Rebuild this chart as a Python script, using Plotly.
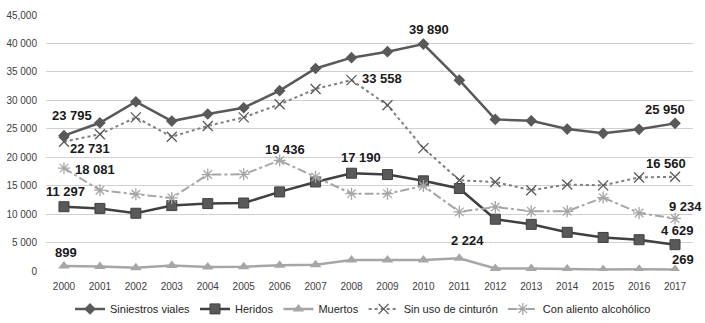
import plotly.graph_objects as go

years = [str(y) for y in range(2000, 2018)]
siniestros = [23795, 26050, 29750, 26350, 27600, 28700, 31700, 35600, 37500, 38550, 39890, 33550, 26650, 26400, 24950, 24200, 24900, 25950]
heridos = [11297, 11000, 10150, 11500, 11850, 11950, 13900, 15650, 17190, 16950, 15850, 14500, 9100, 8200, 6800, 5900, 5500, 4629]
muertos = [899, 800, 550, 950, 700, 750, 1000, 1100, 1950, 1950, 1950, 2224, 450, 450, 350, 250, 300, 269]
sin_cinturon = [22731, 24050, 27000, 23600, 25500, 27000, 29300, 32000, 33558, 29150, 21600, 15950, 15650, 14200, 15200, 15050, 16450, 16560]
alcohol = [18081, 14200, 13500, 12850, 16950, 17000, 19436, 16550, 13600, 13600, 14950, 10400, 11250, 10500, 10500, 12900, 10200, 9234]

tickvals = [0, 5000, 10000, 15000, 20000, 25000, 30000, 35000, 40000, 45000]
ticktext = ["0", "5 000", "10 000", "15 000", "20 000", "25 000", "30 000", "35 000", "40 000", "45,000"]

# labels: (series values, index, xshift, yshift, text)
labels = [
    (siniestros, 0, 8, 20, "23 795"),
    (sin_cinturon, 0, 26, -7, "22 731"),
    (alcohol, 0, 31, -1, "18 081"),
    (heridos, 0, 2, 15, "11 297"),
    (muertos, 0, 2, 13, "899"),
    (siniestros, 10, 6, 15, "39 890"),
    (sin_cinturon, 8, 30, 2, "33 558"),
    (alcohol, 6, 5, 11, "19 436"),
    (heridos, 8, 9, 16, "17 190"),
    (muertos, 11, 8, 18, "2 224"),
    (sin_cinturon, 17, -9, 13, "16 560"),
    (alcohol, 17, 10, 12, "9 234"),
    (heridos, 17, 2, 14, "4 629"),
    (muertos, 17, 8, 10, "269"),
    (siniestros, 17, -10, 14, "25 950"),
]

fig = go.Figure()
fig.add_trace(go.Scatter(x=years, y=siniestros, name="Siniestros viales", mode="lines+markers",
                         line=dict(color="#595959", width=2.5),
                         marker=dict(symbol="diamond", size=9, color="#595959")))
fig.add_trace(go.Scatter(x=years, y=heridos, name="Heridos", mode="lines+markers",
                         line=dict(color="#404040", width=2.5),
                         marker=dict(symbol="square", size=10, color="#595959", line=dict(color="#404040", width=1))))
fig.add_trace(go.Scatter(x=years, y=muertos, name="Muertos", mode="lines+markers",
                         line=dict(color="#a6a6a6", width=2.5),
                         marker=dict(symbol="triangle-up", size=10, color="#a6a6a6")))
fig.add_trace(go.Scatter(x=years, y=sin_cinturon, name="Sin uso de cinturón", mode="lines+markers",
                         line=dict(color="#7f7f7f", width=2, dash="dot"),
                         marker=dict(symbol="x-thin-open", size=10, color="#595959", line=dict(width=1.3, color="#595959"))))
fig.add_trace(go.Scatter(x=years, y=alcohol, name="Con aliento alcohólico", mode="lines+markers",
                         line=dict(color="#a6a6a6", width=2, dash="dashdot"),
                         marker=dict(symbol="asterisk-open", size=10, color="#a6a6a6", line=dict(width=1.3, color="#a6a6a6"))))

for vals, i, xs, ys, txt in labels:
    fig.add_annotation(x=i, y=vals[i], xref="x", yref="y", text="<b>" + txt + "</b>", showarrow=False,
                       xshift=xs, yshift=ys, font=dict(family="Liberation Sans", size=13, color="#1a1a1a"))

fig.update_layout(
    width=705, height=323,
    margin=dict(l=46, r=12, t=15, b=52, autoexpand=False),
    paper_bgcolor="white", plot_bgcolor="white",
    font=dict(family="Liberation Sans", size=10, color="#404040"),
    showlegend=True,
    legend=dict(orientation="h", x=0.49, xanchor="center", y=-0.148, yanchor="middle",
                font=dict(size=11, color="#262626"), itemwidth=30, tracegroupgap=0),
)
fig.update_xaxes(type="category", range=[-0.5, 17.5], showgrid=False, zeroline=False,
                 showline=False, ticks="", tickfont=dict(size=10, color="#404040"),
                 ticklabelstandoff=8)
fig.update_yaxes(range=[0, 45000], tickvals=tickvals, ticktext=ticktext, showgrid=True,
                 gridcolor="#d0d0d0", gridwidth=1, zeroline=False, showline=False,
                 tickfont=dict(size=10, color="#404040"), ticklabelstandoff=8)

fig.write_html("out.html")
